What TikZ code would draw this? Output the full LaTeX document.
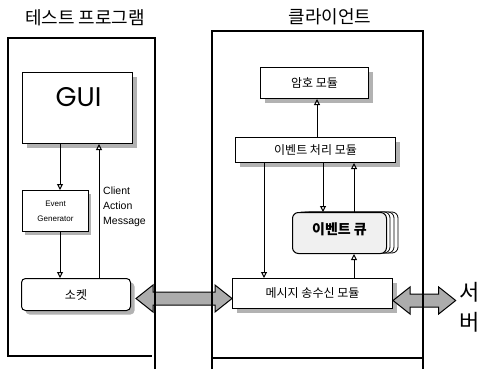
\documentclass[tikz,border=0pt]{standalone}
\usepackage{fontspec}
\setmainfont{Liberation Sans}
\newfontfamily\kr{Noto Sans CJK KR}
\newfontfamily\pop{Poppins}
\usetikzlibrary{arrows.meta,shadows,calc}
\begin{document}
\begin{tikzpicture}[x=1pt,y=-1pt,
  box/.style={draw, line width=1pt, fill=white, inner sep=0pt, font=\kr\fontsize{12}{14}\selectfont},
  shbox/.style={box, general shadow={shadow xshift=4pt, shadow yshift=-4pt, fill=gray!60}},
  smallsh/.style={box, general shadow={shadow xshift=2pt, shadow yshift=-3pt, fill=gray!60}},
  arr/.style={line width=1pt, -{Triangle[open, length=6pt, width=6pt]}},
  bigarr/.style={draw, line width=1pt, fill=gray!65, line join=miter},
  cont/.style={draw, line width=1.2pt},
  title/.style={font=\kr\fontsize{18}{20}\selectfont}
]
\fill[white] (0,0) rectangle (481,369);
\useasboundingbox (0,0) rectangle (481,369);

% titles
\node[title] (t1) at (85,18) {테스트 프로그램};
\node[title] (t2) at (330,17) {클라이언트};

% left side
\node[shbox, minimum width=110, minimum height=71, anchor=north west] (gui) at (22,72) {};
\node[font=\pop\fontsize{27}{30}\selectfont, inner sep=0pt] (guit) at (78.5,97) {GUI};
\node[smallsh, minimum width=66, minimum height=41, anchor=north west, align=center,
  font=\fontsize{8}{15}\selectfont] (evg) at (22,190) {Event\\Generator};
\node[shbox, rounded corners=4pt, minimum width=109, minimum height=32, anchor=north west] (sock) at (21,278) {소켓};
\node[align=left, anchor=west, inner sep=0pt, font=\fontsize{10.5}{15}\selectfont] (cam) at (103,207) {Client\\Action\\Message};

\draw[arr] ([xshift=38pt]gui.south west) -- ([xshift=38pt]evg.north west);
\draw[arr] ([xshift=38pt]evg.south west) -- ([xshift=39pt]sock.north west);
\draw[arr] ([xshift=78pt]sock.north west) -- ([xshift=77pt]gui.south west);

% right side
\node[shbox, minimum width=108, minimum height=31, anchor=north west] (crypto) at (260,67) {암호 모듈};
\node[shbox, minimum width=160, minimum height=25, anchor=north west] (evproc) at (235,137) {이벤트 처리 모듈};
\foreach \k in {12,8,4}{
  \draw[line width=0.8pt, fill=white, rounded corners=6pt] (292+\k,212) rectangle (386+\k,253);
}
\node[box, rounded corners=6pt, fill=gray!12, minimum width=94, minimum height=41, anchor=north west,
  font=\kr\bfseries\fontsize{14}{16}\selectfont, text depth=8pt] (queue) at (292,212) {이벤트 큐};
\node[shbox, minimum width=160, minimum height=30, anchor=north west] (msg) at (232,278) {메시지 송수신 모듈};

\draw[arr] ([xshift=82pt]evproc.north west) -- ([xshift=57pt]crypto.south west);
\draw[arr] ([xshift=29pt]evproc.south west) -- ([xshift=32pt]msg.north west);
\draw[arr] ([xshift=88pt]evproc.south west) -- ([xshift=31pt]queue.north west);
\draw[arr] ([xshift=62pt]queue.north west) -- ([xshift=119pt]evproc.south west);
\draw[arr] ([xshift=122pt]msg.north west) -- ([xshift=62pt]queue.south west);

% server
\node[font=\kr\fontsize{22}{30}\selectfont, align=center, inner sep=0pt] (srv) at (470,307) {서\\버};

% thick double arrows (between socket and message module, and message module and server)
\coordinate (aL1) at ([xshift=5pt, yshift=-4pt]sock.east);
\coordinate (aL2) at ([yshift=-5pt]msg.west);
\coordinate (aR1) at ([yshift=-7pt]msg.east);
\coordinate (aR2) at ($(aR1 -| srv.west)+(-4,0)$);
\draw[bigarr] (aL1) -- ++(17,-13.5) -- ++(0,7) -- ($(aL2)+(-17,-6.5)$) -- ++(0,-7) -- (aL2)
  -- ++(-17,13.5) -- ++(0,-7) -- ($(aL1)+(17,6.5)$) -- ++(0,7) -- cycle;
\draw[bigarr] (aR1) -- ++(17,-13.5) -- ++(0,7) -- ($(aR2)+(-17,-6.5)$) -- ++(0,-7) -- (aR2)
  -- ++(-17,13.5) -- ++(0,-7) -- ($(aR1)+(17,6.5)$) -- ++(0,7) -- cycle;

% containers
\draw[cont] (155,369) -- (155,38) -- (8,38) -- (8,356) -- (152,356);
\draw[cont] (212,369) -- (212,31) -- (423,31) -- (423,369);
\draw[cont] (212,358) -- (423,358);
\end{tikzpicture}
\end{document}
